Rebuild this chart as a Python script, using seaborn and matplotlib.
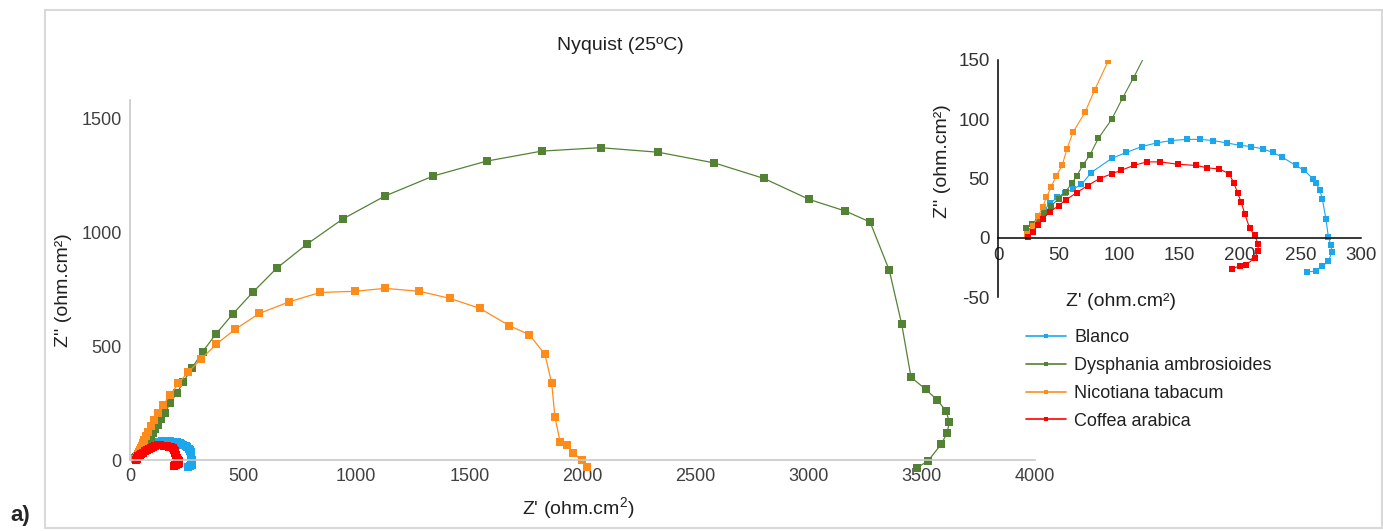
import pandas as pd
import numpy as np
import matplotlib
matplotlib.use("Agg")
import matplotlib.pyplot as plt
import seaborn as sns
from matplotlib.patches import Rectangle
from matplotlib.lines import Line2D

# Nyquist data, Z' and Z'' in ohm.cm2
blanco_zr = [25, 27, 30, 34, 38, 43, 49, 55, 62, 69, 77, 94, 106, 119, 131, 143, 156, 167, 178, 189,
             200, 209, 219, 227, 235, 246, 253, 260, 263, 266, 268, 271, 273, 275, 276, 273, 268, 263, 255]
blanco_zi = [1, 6, 11, 17, 23, 29, 34, 38, 41, 45, 55, 67, 72, 77, 80, 82, 83, 83, 82, 80,
             78, 77, 75, 72, 68, 61, 57, 50, 46, 40, 33, 16, 1, -6, -12, -20, -24, -28, -29]

dysphania_zr = [23, 28, 33, 38, 44, 50, 56, 61, 65, 70, 76, 83, 94, 103, 112, 122, 135, 155, 177, 206,
                236, 273, 321, 380, 454, 542, 648, 781, 940, 1127, 1341, 1576, 1820, 2080, 2335, 2583,
                2802, 3002, 3162, 3271, 3356, 3411, 3452, 3517, 3568, 3607, 3621, 3612, 3586, 3528, 3477]
dysphania_zi = [8, 12, 16, 21, 27, 33, 39, 46, 52, 61, 70, 84, 100, 118, 135, 155, 178, 207, 249, 292,
                343, 402, 475, 553, 640, 735, 841, 946, 1057, 1158, 1246, 1311, 1355, 1370, 1350, 1303,
                1235, 1143, 1092, 1044, 832, 595, 363, 310, 263, 215, 168, 120, 70, -3, -35]

nicotiana_zr = [24, 29, 33, 37, 40, 44, 48, 53, 57, 62, 72, 80, 91, 105, 125, 147, 177, 214, 258, 314,
                380, 464, 572, 704, 840, 994, 1127, 1279, 1414, 1547, 1677, 1765, 1834, 1864, 1878,
                1901, 1930, 1959, 1996, 2018]
nicotiana_zi = [3, 10, 18, 26, 34, 43, 52, 61, 75, 89, 106, 125, 149, 175, 205, 241, 285, 336, 387, 442,
                507, 573, 643, 694, 735, 740, 753, 740, 709, 665, 589, 550, 463, 336, 190,
                80, 66, 29, 0, -30]

coffea_zr = [25, 29, 33, 37, 43, 50, 56, 65, 74, 84, 94, 102, 112, 123, 134, 149, 164, 173, 183, 191,
             195, 198, 201, 204, 208, 212, 215, 215, 212, 205, 200, 193]
coffea_zi = [1, 5, 11, 16, 22, 27, 32, 38, 44, 50, 54, 57, 61, 64, 64, 62, 61, 59, 58, 54,
             46, 38, 30, 20, 8, 2, -5, -11, -17, -23, -24, -26]

names = ["Blanco", "Dysphania ambrosioides", "Nicotiana tabacum", "Coffea arabica"]
colors = ["#1AA7EC", "#548235", "#FF8C1A", "#FF0000"]

frames = []
for name, zr, zi in [(names[0], blanco_zr, blanco_zi), (names[1], dysphania_zr, dysphania_zi),
                     (names[2], nicotiana_zr, nicotiana_zi), (names[3], coffea_zr, coffea_zi)]:
    frames.append(pd.DataFrame({"zr": zr, "zi": zi, "serie": name}))
df = pd.concat(frames, ignore_index=True)

sns.set_style("white")
plt.rcParams["font.family"] = ["Liberation Sans", "DejaVu Sans"]
plt.rcParams["mathtext.fontset"] = "custom"
plt.rcParams["mathtext.rm"] = "Liberation Sans"
plt.rcParams["axes.unicode_minus"] = False

W, H = 1383, 531
fig = plt.figure(figsize=(W / 100, H / 100), dpi=100)

def fx(px):
    return px / W

def fy(py):
    return 1 - py / H

# main plot
ax = fig.add_axes([fx(130), fy(473.7), fx(1035) - fx(130), fy(99.8) - fy(473.7)])
for name, col in zip(names, colors):
    d = df[df.serie == name]
    sns.lineplot(data=d, x="zr", y="zi", sort=False, estimator=None, ax=ax, color=col,
                 marker="s", markersize=5.3, markeredgewidth=0, linewidth=0.9, legend=False)
ax.set_xlim(0, 4000)
ax.set_ylim(-60, 1580)
ax.set_xticks([0, 500, 1000, 1500, 2000, 2500, 3000, 3500, 4000])
ax.set_yticks([0, 500, 1000, 1500])
for s in ["top", "right"]:
    ax.spines[s].set_visible(False)
ax.spines["bottom"].set_position(("data", 0))
ax.spines["left"].set_bounds(0, 1580)
for s in ["bottom", "left"]:
    ax.spines[s].set_color("#C8C8C8")
    ax.spines[s].set_linewidth(1.2)
ax.tick_params(length=0, labelsize=13, colors="#404040", pad=6)
ax.set_xlabel(r"Z' (ohm.cm$^2$)", fontsize=14, color="#202020")
ax.xaxis.set_label_coords(0.495, -0.057)
ax.set_ylabel("Z'' (ohm.cm²)", fontsize=14, color="#202020")
ax.yaxis.set_label_coords(-0.064, 0.49)
ax.patch.set_alpha(0)

# inset
ins = fig.add_axes([fx(998), fy(297), fx(1361) - fx(998), fy(60) - fy(297)])
for name, col in zip(names, colors):
    d = df[df.serie == name]
    sns.lineplot(data=d, x="zr", y="zi", sort=False, estimator=None, ax=ins, color=col,
                 marker="s", markersize=3.8, markeredgewidth=0, linewidth=0.8, legend=False)
ins.set_xlim(0, 300)
ins.set_ylim(-50, 150)
ins.set_xticks([0, 50, 100, 150, 200, 250, 300])
ins.set_yticks([-50, 0, 50, 100, 150])
for s in ["top", "right"]:
    ins.spines[s].set_visible(False)
ins.spines["bottom"].set_position(("data", 0))
for s in ["bottom", "left"]:
    ins.spines[s].set_color("black")
    ins.spines[s].set_linewidth(1.1)
ins.tick_params(axis="y", direction="out", length=4, width=1, labelsize=13.5, colors="black",
                labelcolor="#333333", pad=2)
ins.tick_params(axis="x", direction="out", length=3, width=1, labelsize=13.5, colors="black",
                labelcolor="#333333", pad=4)
ins.set_xlabel("Z' (ohm.cm²)", fontsize=14, color="#202020")
ins.xaxis.set_label_coords(0.34, 0.015)
ins.set_ylabel("Z'' (ohm.cm²)", fontsize=14, color="#202020")
ins.yaxis.set_label_coords(-0.13, 0.574)
ins.patch.set_alpha(0)

# legend
handles = [Line2D([0], [0], color=c, lw=1.2, marker="s", markersize=2.5, markeredgewidth=0)
           for c in colors]
fig.legend(handles, names, loc="upper left", bbox_to_anchor=(fx(1010), fy(313)), frameon=False,
           fontsize=13, handlelength=2.2, handletextpad=0.45, labelspacing=0.6, labelcolor="#202020")

fig.text(fx(620), fy(45), "Nyquist (25ºC)", ha="center", va="center", fontsize=14, color="#202020")
fig.text(fx(10), fy(516), "a)", ha="left", va="center", fontsize=16, fontweight="bold")
fig.patches.append(Rectangle((fx(45), fy(528)), fx(1382) - fx(45), fy(10) - fy(528),
                             transform=fig.transFigure, fill=False, edgecolor="#D9D9D9", lw=1.5))

fig.savefig("out.png", dpi=100)
